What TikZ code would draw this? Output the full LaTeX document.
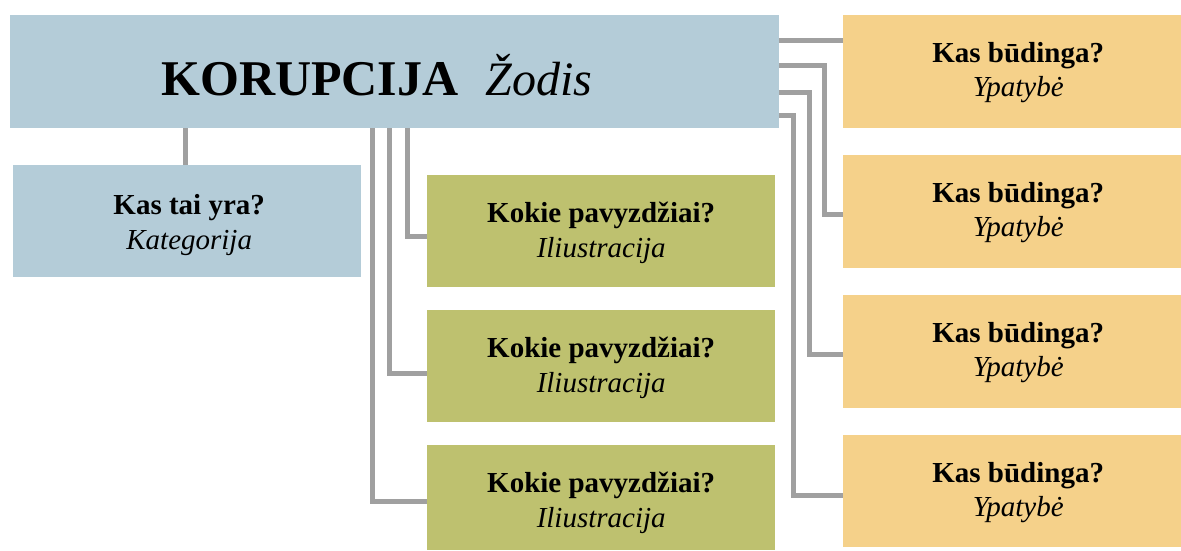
\documentclass[tikz,border=0pt]{standalone}
\usepackage{fontspec}
\setmainfont{Liberation Serif}
\definecolor{mainblue}{HTML}{B4CCD8}
\definecolor{boxgreen}{HTML}{BEC16F}
\definecolor{boxorange}{HTML}{F5D18A}
\definecolor{conngrey}{HTML}{A0A0A0}
\begin{document}
\begin{tikzpicture}[x=1pt,y=-1pt,
  box/.style 2 args={minimum width=#1pt, minimum height=#2pt, inner sep=0pt, anchor=north west, draw=none},
  conn/.style={draw=conngrey, line width=5pt, line join=miter},
  qline/.style={anchor=base, inner sep=0pt, font=\fontsize{29}{33}\selectfont\bfseries},
  aline/.style={anchor=base, inner sep=0pt, font=\fontsize{29}{33}\selectfont\itshape}]
\useasboundingbox (0,0) rectangle (1181,550);
% boxes
\node[box={769}{113}, fill=mainblue] (main) at (10,15) {};
\node[box={348}{112}, fill=mainblue] (cat) at (13,165) {};
\node[box={348}{112}, fill=boxgreen] (gr1) at (427,175) {};
\node[box={348}{112}, fill=boxgreen] (gr2) at (427,310) {};
\node[box={348}{105}, fill=boxgreen] (gr3) at (427,445) {};
\node[box={338}{113}, fill=boxorange] (or1) at (843,15) {};
\node[box={338}{113}, fill=boxorange] (or2) at (843,155) {};
\node[box={338}{113}, fill=boxorange] (or3) at (843,295) {};
\node[box={338}{112}, fill=boxorange] (or4) at (843,435) {};
% title
\node[anchor=base west, inner sep=0pt, font=\fontsize{50}{60}\selectfont] (title) at (161,95)
  {\bfseries KORUPCIJA\hspace{27pt}\mdseries\itshape\fontsize{48}{60}\selectfont Žodis};
% category text
\node[qline] (catq) at ([xshift=2pt,yshift=-49pt]cat.north) {Kas tai yra?};
\node[aline] (cata) at ([xshift=2pt,yshift=-84pt]cat.north) {Kategorija};
% green texts
\foreach \g in {gr1,gr2,gr3}{
  \node[qline] (\g q) at ([yshift=-47pt]\g.north) {Kokie pavyzdžiai?};
  \node[aline] (\g a) at ([yshift=-82pt]\g.north) {Iliustracija};
}
% orange texts
\foreach \o in {or1,or2,or3,or4}{
  \node[qline] (\o q) at ([xshift=6pt,yshift=-47pt]\o.north) {Kas būdinga?};
  \node[aline] (\o a) at ([xshift=6pt,yshift=-81pt]\o.north) {Ypatybė};
}
% connectors: category
\coordinate (c0) at (185,0);
\draw[conn] (main.south -| c0) -- (cat.north -| c0);
% connectors: green
\coordinate (g1) at (407,236);
\coordinate (g2) at (389,373);
\coordinate (g3) at (372,501);
\draw[conn] (main.south -| g1) |- (gr1.west |- g1);
\draw[conn] (main.south -| g2) |- (gr2.west |- g2);
\draw[conn] (main.south -| g3) |- (gr3.west |- g3);
% connectors: orange
\coordinate (a1) at (0,40);
\draw[conn] (main.east |- a1) -- (or1.west |- a1);
\coordinate (a2) at (824,65);  \coordinate (b2) at (824,214);
\coordinate (a3) at (809,92);  \coordinate (b3) at (809,354);
\coordinate (a4) at (793,115); \coordinate (b4) at (793,495);
\draw[conn] (main.east |- a2) -- (a2) -- (b2) -- (or2.west |- b2);
\draw[conn] (main.east |- a3) -- (a3) -- (b3) -- (or3.west |- b3);
\draw[conn] (main.east |- a4) -- (a4) -- (b4) -- (or4.west |- b4);
\end{tikzpicture}
\end{document}
